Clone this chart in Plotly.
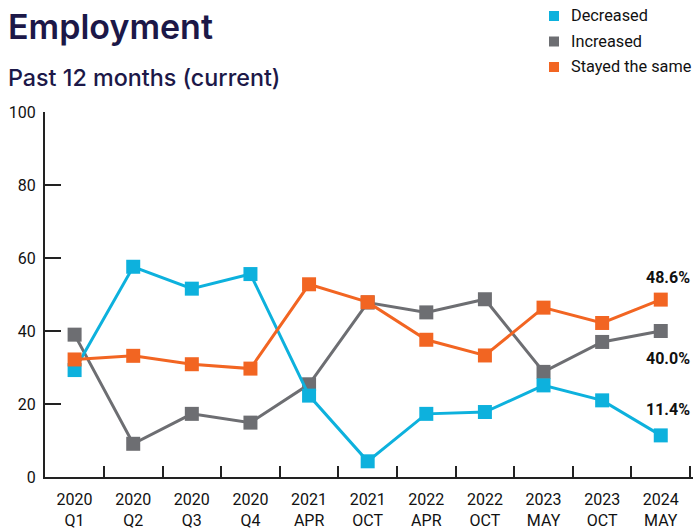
import plotly.graph_objects as go

categories = ["2020<br>Q1", "2020<br>Q2", "2020<br>Q3", "2020<br>Q4", "2021<br>APR", "2021<br>OCT",
              "2022<br>APR", "2022<br>OCT", "2023<br>MAY", "2023<br>OCT", "2024<br>MAY"]
decreased = [29.3, 57.6, 51.6, 55.6, 22.3, 4.3, 17.3, 17.8, 25.1, 21.0, 11.4]
increased = [39.0, 9.1, 17.3, 14.9, 25.4, 47.8, 45.1, 48.7, 28.8, 37.0, 40.0]
stayed = [32.2, 33.2, 30.9, 29.7, 52.8, 47.9, 37.6, 33.3, 46.4, 42.2, 48.6]
series_names = ["Decreased", "Increased", "Stayed the same"]
y_ticks = [0, 20, 40, 60, 80, 100]

BLUE = "#0db1dd"
GRAY = "#6d6e72"
ORANGE = "#f26522"
NAVY = "#1c1848"

fig = go.Figure()

# drawing order: gray bottom, blue, orange on top
for vals, col in [(increased, GRAY), (decreased, BLUE), (stayed, ORANGE)]:
    fig.add_trace(go.Scatter(
        x=categories, y=vals, mode="lines+markers",
        line=dict(color=col, width=3),
        marker=dict(symbol="square", size=14, color=col),
        showlegend=False, cliponaxis=False, hoverinfo="skip"))

# end labels
last = categories[-1]
for vals, ys in [(stayed, 22), (increased, -27), (decreased, 26)]:
    fig.add_annotation(x=last, y=vals[-1], xref="x", yref="y",
                       text=f"{vals[-1]:.1f}%", showarrow=False,
                       xanchor="right", xshift=31, yshift=ys,
                       font=dict(family="Roboto", size=16, color="#111111", weight="bold"))

L, R, T, B = 45, 0, 112, 52
W, H = 693, 529
pw, ph = W - L - R, H - T - B

def px(x):
    return (x - L) / pw

def py(y):
    return (H - B - y) / ph

fig.add_annotation(xref="paper", yref="paper", x=px(6), y=py(26), xanchor="left", yanchor="middle",
                   text="Employment", showarrow=False,
                   font=dict(family="Inter", size=34, color=NAVY, weight=600))
fig.add_annotation(xref="paper", yref="paper", x=px(6), y=py(77), xanchor="left", yanchor="middle",
                   text="Past 12 months (current)", showarrow=False,
                   font=dict(family="Inter", size=23.3, color=NAVY, weight=500))

# manual legend (squares + labels)
for i, (name, col) in enumerate(zip(series_names, [BLUE, GRAY, ORANGE])):
    cy = 16 + i * 25.5
    fig.add_shape(type="rect", xref="paper", yref="paper",
                  x0=px(549), x1=px(559), y0=py(cy + 5), y1=py(cy - 5),
                  fillcolor=col, line=dict(width=0))
    fig.add_annotation(xref="paper", yref="paper", x=px(569), y=py(cy), xanchor="left", yanchor="middle",
                       text=name, showarrow=False,
                       font=dict(family="Roboto", size=16.3, color="#111111"))

fig.update_layout(
    width=W, height=H,
    margin=dict(l=L, r=R, t=T, b=B),
    paper_bgcolor="white", plot_bgcolor="white",
    showlegend=False,
    font=dict(family="Roboto", size=16, color="#111111"),
    xaxis=dict(type="category", categoryorder="array", categoryarray=categories,
               range=[-0.505, 10.55], showline=True, linecolor="#222222", linewidth=2,
               ticks="inside", ticklen=11, tickwidth=1.5, tickcolor="#222222",
               tickson="boundaries", showgrid=False, zeroline=False, ticklabelstandoff=7,
               tickfont=dict(family="Roboto", size=16, color="#111111")),
    yaxis=dict(range=[0, 100], tickvals=y_ticks, showline=True, linecolor="#222222", linewidth=2,
               ticks="inside", ticklen=16, tickwidth=2, tickcolor="#222222",
               showgrid=False, zeroline=False, ticklabelstandoff=4,
               tickfont=dict(family="Roboto", size=16, color="#111111")),
)

fig.write_html("out.html", config={"displayModeBar": False},
               post_script="document.body.style.margin='0';document.body.style.overflow='hidden';")
